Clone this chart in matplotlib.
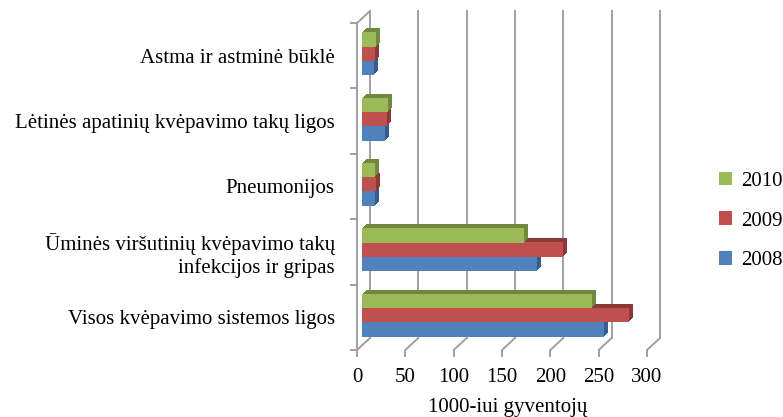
import matplotlib.pyplot as plt
import matplotlib.transforms as mtransforms
import numpy as np

plt.rcParams['font.family'] = ['Liberation Serif', 'DejaVu Serif']

categories = ["Visos kvėpavimo sistemos ligos",
              "Ūminės viršutinių kvėpavimo takų\ninfekcijos ir gripas",
              "Pneumonijos",
              "Lėtinės apatinių kvėpavimo takų ligos",
              "Astma ir astminė būklė"]
years = ["2008", "2009", "2010"]
v2008 = [250, 181, 13, 24, 12]
v2009 = [276, 208, 14.5, 26, 13]
v2010 = [238, 168, 13, 27, 14]
xticks = [0, 50, 100, 150, 200, 250, 300]

front_colors = ["#4F81BD", "#C0504D", "#9BBB59"]
side_colors = ["#385D8A", "#8C3836", "#71893F"]
grid_color = "#A0A0A0"
fs = 15

fig = plt.figure(figsize=(7.83, 4.17), dpi=100)
ax = fig.add_axes([357 / 783, 67 / 417, 290 / 783, 327 / 417])


def shifted(dx, dy):
    # same data coords, moved by some pixels (fake 3d depth)
    return mtransforms.offset_copy(ax.transData, fig=fig, x=dx, y=dy, units='dots')


# back wall grid + floor lines
back = shifted(13, 12)
line_kw = dict(arrowstyle='-', color=grid_color, lw=1.4, shrinkA=0, shrinkB=0)
for x in xticks:
    ax.plot([x, x], [0, 5], color=grid_color, lw=1.4, transform=back,
            clip_on=False, zorder=1)
    ax.annotate('', xy=(x, 0), xytext=(13, 12), textcoords='offset pixels',
                arrowprops=line_kw, annotation_clip=False, zorder=1)
ax.annotate('', xy=(0, 5), xytext=(13, 12), textcoords='offset pixels',
            arrowprops=line_kw, annotation_clip=False, zorder=1)

# bars
ypos = np.arange(len(categories))
offsets = [0.237, 0.459, 0.673]
bar_h = 0.222
handles = []
for vals, off, fc, sc, yr in zip([v2008, v2009, v2010], offsets,
                                 front_colors, side_colors, years):
    for k in range(1, 5):
        ax.barh(ypos + off, vals, height=bar_h, color=sc, linewidth=0,
                transform=shifted(5 + k, 5 + k), zorder=2)
    b = ax.barh(ypos + off, vals, height=bar_h, color=fc, linewidth=0,
                transform=shifted(5, 5), zorder=3, label=yr)
    handles.append(b)

ax.set_xlim(0, 300)
ax.set_ylim(0, 5)

for s in ['top', 'right', 'bottom']:
    ax.spines[s].set_visible(False)
ax.spines['left'].set_color(grid_color)
ax.spines['left'].set_linewidth(1.4)

ax.set_yticks(range(6))
ax.set_yticklabels([])
ax.set_yticks(ypos + 0.5, minor=True)
ax.set_yticklabels(categories, minor=True, fontsize=fs)
ax.tick_params(axis='y', which='major', length=5, width=1.4, color=grid_color)
ax.tick_params(axis='y', which='minor', length=0, pad=16)

ax.set_xticks(xticks)
ax.set_xticklabels([str(t) for t in xticks], fontsize=fs)
ax.tick_params(axis='x', length=5, width=1.4, color=grid_color, pad=8)
ax.set_xlabel("1000-iui gyventojų", fontsize=fs)
ax.xaxis.set_label_coords(0.52, -0.148)

ax.legend(handles[::-1], years[::-1], frameon=False, fontsize=fs,
          loc='center left', bbox_to_anchor=(719 / 783, 196 / 417),
          bbox_transform=fig.transFigure, borderpad=0, borderaxespad=0,
          handlelength=0.62, handleheight=0.62, handletextpad=0.45,
          labelspacing=1.0)

fig.savefig("out.png", dpi=100)
